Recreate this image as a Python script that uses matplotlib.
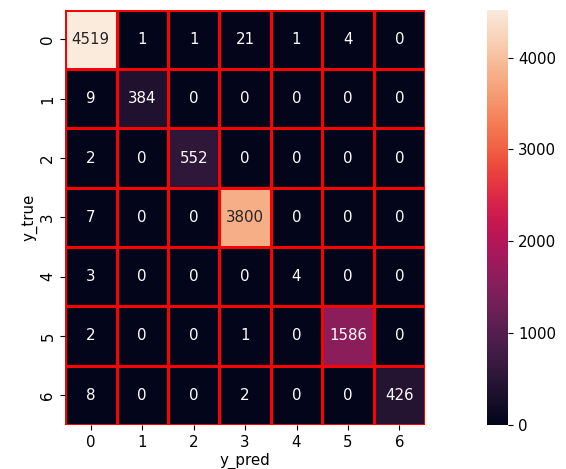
import matplotlib
matplotlib.use("Agg")
import matplotlib.pyplot as plt
import seaborn as sns
import numpy as np

labels = [0, 1, 2, 3, 4, 5, 6]
cm = np.array([
    [4519, 1, 1, 21, 1, 4, 0],
    [9, 384, 0, 0, 0, 0, 0],
    [2, 0, 552, 0, 0, 0, 0],
    [7, 0, 0, 3800, 0, 0, 0],
    [3, 0, 0, 0, 4, 0, 0],
    [2, 0, 0, 1, 0, 1586, 0],
    [8, 0, 0, 2, 0, 0, 426],
])

plt.rcParams["font.size"] = 10.8

fig = plt.figure(figsize=(5.66, 4.69), dpi=100)
ax = fig.add_axes([0.115, 0.094, 0.636, 0.885])
cax = fig.add_axes([0.860, 0.094, 0.038, 0.885])

sns.heatmap(cm, annot=True, fmt="d", linewidths=0.8, linecolor="red",
            xticklabels=labels, yticklabels=labels, ax=ax, cbar_ax=cax,
            annot_kws={"size": 10.8})
ax.set_xlabel("y_pred", fontsize=10.8, labelpad=2)
ax.set_ylabel("y_true", fontsize=10.8, labelpad=2)

fig.savefig("out.png", dpi=100)
